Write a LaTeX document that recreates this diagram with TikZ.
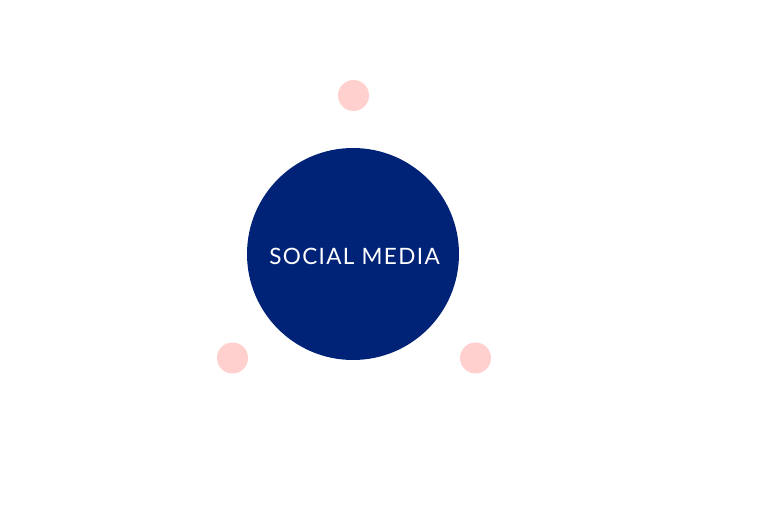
\documentclass[tikz,border=0pt]{standalone}
\usepackage{fontspec}
\setmainfont{Lato}[LetterSpace=6]
\definecolor{navy}{RGB}{0,35,120}
\definecolor{pinkdot}{RGB}{255,208,206}
\begin{document}
\begin{tikzpicture}[x=0.75pt,y=-0.75pt,
  dot/.style={circle,fill=pinkdot,minimum size=31*0.75pt,inner sep=0pt},
  hub/.style={circle,fill=navy,minimum size=212*0.75pt,inner sep=0pt},
  hublabel/.style={text=white,font=\fontsize{16.9}{18}\selectfont}]
\useasboundingbox[fill=white] (0,0) rectangle (768,516);
\node[hub] (hub) at (353,254) {};
\node[hublabel] (label) at (354.5,256.5) {SOCIAL MEDIA};
\node[dot] (top) at (353.5,95.5) {};
\node[dot] (left) at (232.5,358) {};
\node[dot] (right) at (475.5,358) {};
\end{tikzpicture}
\end{document}
